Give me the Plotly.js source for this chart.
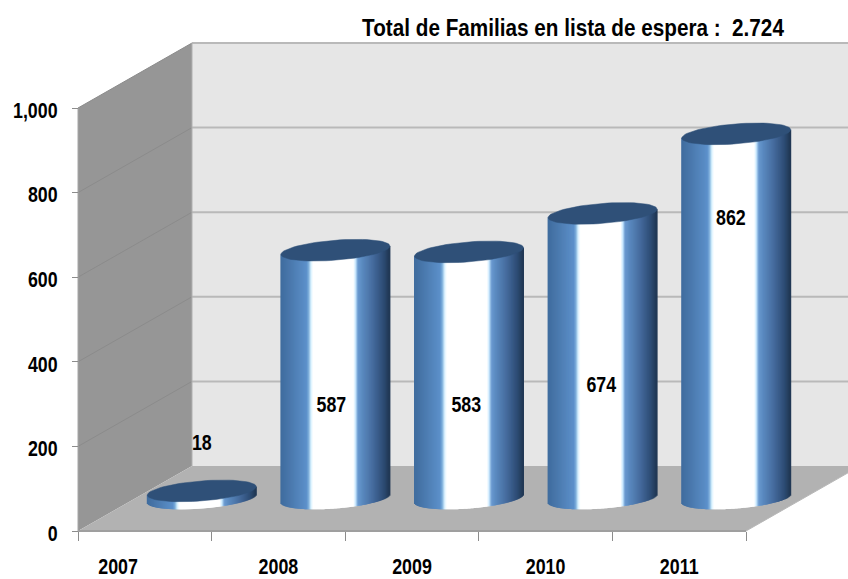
<!DOCTYPE html>
<html>
<head>
<meta charset="utf-8">
<script src="https://cdn.plot.ly/plotly-3.0.1.min.js"></script>
<style>html,body{margin:0;padding:0;background:#fff;overflow:hidden}#chart{width:848px;height:579px}</style>
</head>
<body>
<div id="chart"></div>
<script>
// ---- data ----
const years = ['2007','2008','2009','2010','2011'];
const families = [18, 587, 583, 674, 862];
const labelHeights = [204, 294, 294, 341, 736];
const labelShift = [0, -0.03, -0.02, -0.01, -0.04];
const yearLabelShift = [-0.2, 0, 0, 0, 0];
const valueTicks = [0, 200, 400, 600, 800, 1000];

// ---- axis scale: the axes fill the page, 3D look is a fixed oblique offset ----
const W = 848, H = 579;
const pxPerSlot = 133.6, pxPerUnit = 0.423, originX = 78, originY = 531;
const xRange = [(0 - originX) / pxPerSlot - 0.5, (W - originX) / pxPerSlot - 0.5];
const yRange = [(originY - H) / pxPerUnit, originY / pxPerUnit];
const depthX = 114 / pxPerSlot, depthY = 65 / pxPerUnit;
const midX = depthX / 2, midY = depthY / 2;
const radiusX = 54.5 / pxPerSlot, radiusY = 10 / pxPerUnit;
const tilt = (4.2 / pxPerUnit) / radiusX;
const xL = -0.5, xR = years.length - 0.5, topV = 1000;

const gradient = [
  [0, '#3f6c9e'], [0.08, '#4977ab'], [0.24, '#5c90ca'], [0.26, '#7fb0dc'], [0.28, '#d8f2ff'],
  [0.30, '#ffffff'], [0.67, '#ffffff'], [0.69, '#c8e8ff'], [0.71, '#6a9ad0'], [0.75, '#5a8ac0'],
  [0.85, '#456b9d'], [0.95, '#2c4b72'], [1, '#203652']
];
function hex(c) { return [1, 3, 5].map(i => parseInt(c.substr(i, 2), 16)); }
function shade(f) {
  for (let i = 1; i < gradient.length; i++) {
    if (f <= gradient[i][0]) {
      const [a, ca] = gradient[i - 1], [b, cb] = gradient[i];
      const t = (f - a) / (b - a), A = hex(ca), B = hex(cb);
      return 'rgb(' + A.map((v, k) => Math.round(v + (B[k] - v) * t)).join(',') + ')';
    }
  }
  return gradient[gradient.length - 1][1];
}

// cylinder bodies as thin vertical bars that overlap so no gaps remain
const stripCount = 107, stripW = 2 * radiusX / stripCount;
const sx = [], sBase = [], sLen = [], sCol = [], sW = [];
families.forEach((v, i) => {
  for (let k = 0; k < stripCount; k++) {
    const f = (k + 0.5) / stripCount, dx = (f * 2 - 1) * radiusX;
    const arc = radiusY * Math.sqrt(1 - Math.pow(dx / radiusX, 2));
    const bottom = midY + tilt * dx - arc;
    sx.push(i + midX + dx);
    sBase.push(bottom);
    sLen.push(v + arc);
    sCol.push(shade(f));
    sW.push(stripW * 2);
  }
});

// cylinder lids
const lidX = [], lidY = [];
families.forEach((v, i) => {
  for (let d = 0; d <= 360; d += 5) {
    const t = d * Math.PI / 180, dx = radiusX * Math.cos(t);
    lidX.push(i + midX + dx);
    lidY.push(v + midY + tilt * dx + radiusY * Math.sin(t));
  }
  lidX.push(null); lidY.push(null);
});

function poly(pts) { return 'M' + pts.map(p => p[0] + ',' + p[1]).join('L') + 'Z'; }
function seg(x0, y0, x1, y1, color, width) {
  return {type: 'line', layer: 'below', xref: 'x', yref: 'y', x0, y0, x1, y1, line: {color, width}};
}
function area(pts, color) {
  return {type: 'path', layer: 'below', xref: 'x', yref: 'y', path: poly(pts), fillcolor: color, line: {width: 0}};
}
const shapes = [
  area([[xL + depthX, depthY], [xR + depthX, depthY], [xR + depthX, topV + depthY], [xL + depthX, topV + depthY]], '#e6e6e6'),
  area([[xL, 0], [xL + depthX, depthY], [xL + depthX, topV + depthY], [xL, topV]], '#969696'),
  area([[xL, 0], [xR, 0], [xR + depthX, depthY], [xL + depthX, depthY]], '#b2b2b2')
];
valueTicks.forEach(v => {
  if (v > 0) {
    shapes.push(seg(xL + depthX, v + depthY, xR + depthX, v + depthY, '#b9b9b9', 2));
    shapes.push(seg(xL, v, xL + depthX, v + depthY, '#8b8b8b', 1));
  }
});
shapes.push(seg(xL, 0, xR, 0, '#9f9f9f', 2));
shapes.push(seg(xL, 0, xL, topV, '#a6a6a6', 1));
shapes.push(seg(xR, 0, xR + depthX, depthY, '#b8b8b8', 1));
shapes.push(seg(xL + depthX, 0 + depthY, xL + depthX, topV + depthY, '#b0b0b0', 1));

const face = '"Liberation Sans",Arial,sans-serif';
const data = [
  {type: 'bar', x: sx, y: sLen, base: sBase, width: sW, orientation: 'v', opacity: 1,
   marker: {color: sCol, opacity: 1, line: {width: 0}}, hoverinfo: 'skip', showlegend: false},
  {type: 'scatter', mode: 'lines', x: lidX, y: lidY, fill: 'toself', fillcolor: '#2f5078',
   line: {width: 0.5, color: '#2f5078'}, hoverinfo: 'skip', showlegend: false},
  {type: 'scatter', mode: 'text', x: years.map((_, i) => i + midX + labelShift[i]), y: labelHeights,
   text: families.map(String), textposition: 'middle center',
   textfont: {family: face, size: 22, color: '#000', weight: 700},
   hoverinfo: 'skip', showlegend: false}
];

const layout = {
  width: W, height: H, margin: {l: 0, r: 0, t: 0, b: 0},
  paper_bgcolor: '#fff', plot_bgcolor: 'rgba(0,0,0,0)',
  barmode: 'overlay', dragmode: false, showlegend: false,
  title: {text: 'Total de Familias en lista de espera :\u00a0\u00a02.724', x: 573 / W, xanchor: 'center', xref: 'paper',
          y: 1 - 28 / H, yanchor: 'middle', yref: 'paper',
          font: {family: face, size: 23, color: '#000', weight: 700}},
  xaxis: {range: xRange, domain: [0, 1], anchor: 'free', position: (H - originY) / H, fixedrange: true,
          showgrid: false, zeroline: false, showline: false,
          tickmode: 'array', tickvals: years.map((_, i) => i + yearLabelShift[i]), ticktext: years,
          ticks: '', ticklabelstandoff: 20,
          tickfont: {family: face, size: 22, color: '#000', weight: 700},
          minor: {tickmode: 'array', tickvals: [xL, 0.5, 1.5, 2.5, 3.5, xR], ticks: 'outside', ticklen: 9, tickcolor: '#8c8c8c', tickwidth: 1, showgrid: false}},
  yaxis: {range: yRange, domain: [0, 1], anchor: 'free', position: originX / W, fixedrange: true,
          showgrid: false, zeroline: false, showline: false, ticklabelstandoff: 10, ticklabelshift: 2,
          tickmode: 'array', tickvals: valueTicks, tickformat: ',d',
          ticks: 'outside', ticklen: 6, tickcolor: '#8c8c8c', tickwidth: 1,
          tickfont: {family: face, size: 22, color: '#000', weight: 700}},
  shapes
};

// the reference's lettering is a condensed bold: squeeze the glyphs, keeping real text
function condense(selector, factor) {
  document.querySelectorAll(selector).forEach(el => {
    const len = el.getComputedTextLength();
    el.setAttribute('lengthAdjust', 'spacingAndGlyphs');
    el.setAttribute('textLength', (len * factor).toFixed(1));
  });
}
Plotly.newPlot('chart', data, layout, {displayModeBar: false, staticPlot: true}).then(() => {
  condense('.xtick text, .ytick text, .textpoint text', 0.81);
  condense('.gtitle', 0.9);
});
</script>
</body>
</html>
